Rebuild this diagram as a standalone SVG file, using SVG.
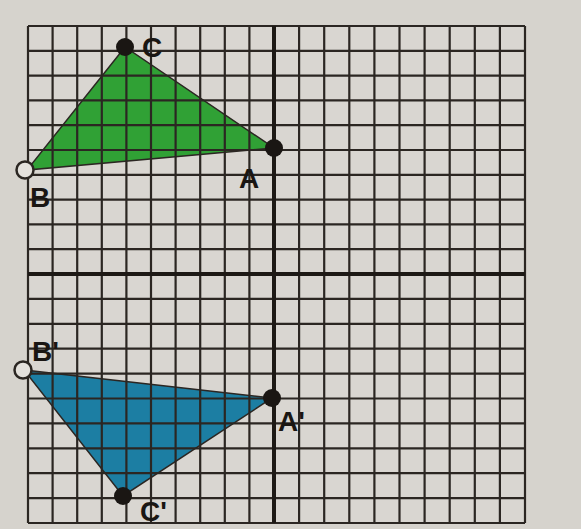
<svg xmlns="http://www.w3.org/2000/svg" width="581" height="529" viewBox="0 0 581 529">
<style>
.grid line{stroke:#2b2622;stroke-width:2.2}
.axis{stroke:#1d1915;stroke-width:4}
.lbl{font-family:"Liberation Sans","DejaVu Sans",sans-serif;font-weight:bold;font-size:28px;fill:#1a1613}
.dot{fill:#1a1613}
.open{fill:#e4e1dc;stroke:#2b2622;stroke-width:2.5}
.edge{stroke:#2b2622;stroke-width:1.5}
</style>
<rect x="0" y="0" width="581" height="529" fill="#d6d3cd"/>
<rect x="28" y="26" width="497" height="497" fill="#d9d6d1"/>
<g id="triangle-ABC">
<polygon class="edge" points="274,148 27,170 125,47" fill="#30a135"/>
</g>
<g id="triangle-A1B1C1">
<polygon class="edge" points="272,398 24,370 123,496" fill="#1c7ea3"/>
</g>
<g class="grid" id="grid">
<line x1="28" y1="26" x2="28" y2="523"/>
<line x1="52.6" y1="26" x2="52.6" y2="523"/>
<line x1="77.2" y1="26" x2="77.2" y2="523"/>
<line x1="101.8" y1="26" x2="101.8" y2="523"/>
<line x1="126.4" y1="26" x2="126.4" y2="523"/>
<line x1="151" y1="26" x2="151" y2="523"/>
<line x1="175.6" y1="26" x2="175.6" y2="523"/>
<line x1="200.2" y1="26" x2="200.2" y2="523"/>
<line x1="224.8" y1="26" x2="224.8" y2="523"/>
<line x1="249.4" y1="26" x2="249.4" y2="523"/>
<line x1="299.1" y1="26" x2="299.1" y2="523"/>
<line x1="324.2" y1="26" x2="324.2" y2="523"/>
<line x1="349.3" y1="26" x2="349.3" y2="523"/>
<line x1="374.4" y1="26" x2="374.4" y2="523"/>
<line x1="399.5" y1="26" x2="399.5" y2="523"/>
<line x1="424.6" y1="26" x2="424.6" y2="523"/>
<line x1="449.7" y1="26" x2="449.7" y2="523"/>
<line x1="474.8" y1="26" x2="474.8" y2="523"/>
<line x1="499.9" y1="26" x2="499.9" y2="523"/>
<line x1="525" y1="26" x2="525" y2="523"/>
<line x1="28" y1="26" x2="525" y2="26"/>
<line x1="28" y1="50.8" x2="525" y2="50.8"/>
<line x1="28" y1="75.6" x2="525" y2="75.6"/>
<line x1="28" y1="100.4" x2="525" y2="100.4"/>
<line x1="28" y1="125.2" x2="525" y2="125.2"/>
<line x1="28" y1="150" x2="525" y2="150"/>
<line x1="28" y1="174.8" x2="525" y2="174.8"/>
<line x1="28" y1="199.6" x2="525" y2="199.6"/>
<line x1="28" y1="224.4" x2="525" y2="224.4"/>
<line x1="28" y1="249.2" x2="525" y2="249.2"/>
<line x1="28" y1="298.9" x2="525" y2="298.9"/>
<line x1="28" y1="323.8" x2="525" y2="323.8"/>
<line x1="28" y1="348.7" x2="525" y2="348.7"/>
<line x1="28" y1="373.6" x2="525" y2="373.6"/>
<line x1="28" y1="398.5" x2="525" y2="398.5"/>
<line x1="28" y1="423.4" x2="525" y2="423.4"/>
<line x1="28" y1="448.3" x2="525" y2="448.3"/>
<line x1="28" y1="473.2" x2="525" y2="473.2"/>
<line x1="28" y1="498.1" x2="525" y2="498.1"/>
<line x1="28" y1="523" x2="525" y2="523"/>
</g>
<g id="axes">
<line class="axis" x1="274" y1="26" x2="274" y2="523"/>
<line class="axis" x1="28" y1="274" x2="525" y2="274"/>
</g>
<g id="point-C"><circle class="dot" cx="125" cy="47" r="9"/><text class="lbl" x="142" y="57">C</text></g>
<g id="point-A"><circle class="dot" cx="274" cy="148" r="9"/><text class="lbl" x="239" y="188">A</text></g>
<g id="point-B"><circle class="open" cx="25" cy="170" r="8.5"/><text class="lbl" x="30" y="207">B</text></g>
<g id="point-B1"><circle class="open" cx="23" cy="370" r="8.5"/><text class="lbl" x="32" y="361">B'</text></g>
<g id="point-A1"><circle class="dot" cx="272" cy="398" r="9"/><text class="lbl" x="278" y="431">A'</text></g>
<g id="point-C1"><circle class="dot" cx="123" cy="496" r="9"/><text class="lbl" x="140" y="521">C'</text></g>
</svg>
